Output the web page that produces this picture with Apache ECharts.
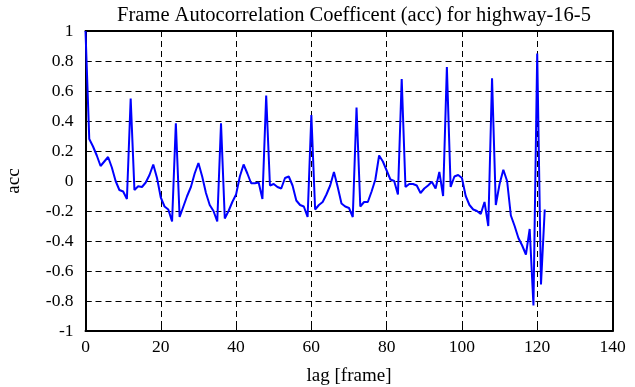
<!DOCTYPE html>
<html>
<head>
<meta charset="utf-8">
<script src="https://cdn.jsdelivr.net/npm/echarts@6/dist/echarts.min.js"></script>
<style>
html,body{margin:0;padding:0;background:#fff;}
#chart{width:635px;height:387px;}
</style>
</head>
<body>
<div id="chart"></div>
<script>
var titleText = 'Frame Autocorrelation Coefficent (acc) for highway-16-5';
var xName = 'lag [frame]';
var yName = 'acc';
var xTicks = [0, 20, 40, 60, 80, 100, 120, 140];
var yTicks = [-1, -0.8, -0.6, -0.4, -0.2, 0, 0.2, 0.4, 0.6, 0.8, 1];
var lags = [];
for (var k = 0; k <= 122; k++) lags.push(k);
var acc = [
  1.0, 0.28, 0.23, 0.17, 0.10, 0.13, 0.16, 0.09, 0.0, -0.06,
  -0.07, -0.12, 0.55, -0.06, -0.035, -0.04, -0.01, 0.04, 0.11, 0.02,
  -0.11, -0.17, -0.19, -0.27, 0.385, -0.24, -0.17, -0.10, -0.04, 0.05,
  0.12, 0.03, -0.08, -0.16, -0.20, -0.27, 0.385, -0.25, -0.20, -0.14,
  -0.09, 0.03, 0.11, 0.05, -0.015, -0.015, -0.01, -0.12, 0.57, -0.03,
  -0.02, -0.04, -0.05, 0.02, 0.03, -0.03, -0.13, -0.16, -0.17, -0.24,
  0.44, -0.19, -0.16, -0.14, -0.09, -0.03, 0.06, -0.04, -0.15, -0.17,
  -0.18, -0.24, 0.49, -0.17, -0.14, -0.14, -0.07, 0.01, 0.17, 0.13,
  0.07, 0.01, 0.0, -0.09, 0.68, -0.04, -0.02, -0.02, -0.03, -0.08,
  -0.05, -0.03, -0.005, -0.05, 0.06, -0.10, 0.76, -0.04, 0.03, 0.04,
  0.02, -0.10, -0.16, -0.19, -0.20, -0.22, -0.14, -0.30, 0.685, -0.16,
  -0.02, 0.075, 0.0, -0.23, -0.30, -0.38, -0.43, -0.49, -0.32, -0.83,
  0.85, -0.69, -0.19
];

var FONT = '"Liberation Serif", "DejaVu Serif", serif';
var chart = echarts.init(document.getElementById('chart'), null, {renderer: 'canvas'});
var seriesData = lags.map(function (l, i) { return [l, acc[i]]; });
var frameLine = {show: true, onZero: false, lineStyle: {color: '#000', width: 2}};
var tickIn = {show: true, inside: true, length: 6, lineStyle: {color: '#000', width: 1}};
var dashed = {show: true, lineStyle: {color: '#000', width: 1, type: [6, 4]}};
function fmtY(v) {
  var r = Math.round(v * 10) / 10;
  return String(r);
}
chart.setOption({
  animation: false,
  backgroundColor: '#fff',
  title: {
    text: titleText,
    left: 349, top: 0, textAlign: 'center',
    textStyle: {fontFamily: FONT, fontSize: 20.5, fontWeight: 'normal', color: '#000'}
  },
  grid: {left: 85.5, right: 22.5, top: 31, bottom: 56, containLabel: false, outerBoundsMode: 'none'},
  xAxis: [{
    type: 'value', position: 'bottom',
    min: xTicks[0], max: xTicks[xTicks.length - 1], interval: 20,
    name: xName, nameLocation: 'middle', nameGap: 36,
    nameTextStyle: {fontFamily: FONT, fontSize: 19, color: '#000'},
    axisLine: frameLine, axisTick: tickIn,
    axisLabel: {fontFamily: FONT, fontSize: 17.5, color: '#000', margin: 7},
    splitLine: dashed
  }, {
    type: 'value', position: 'top',
    min: xTicks[0], max: xTicks[xTicks.length - 1], interval: 20,
    axisLine: frameLine, axisTick: tickIn,
    axisLabel: {show: false}, splitLine: {show: false}
  }],
  yAxis: [{
    type: 'value', position: 'left',
    min: yTicks[0], max: yTicks[yTicks.length - 1], interval: 0.2,
    name: yName, nameLocation: 'middle', nameGap: 62, nameRotate: 90,
    nameTextStyle: {fontFamily: FONT, fontSize: 19, color: '#000'},
    axisLine: frameLine, axisTick: tickIn,
    axisLabel: {fontFamily: FONT, fontSize: 17.5, color: '#000', margin: 12, formatter: fmtY},
    splitLine: dashed
  }, {
    type: 'value', position: 'right',
    min: yTicks[0], max: yTicks[yTicks.length - 1], interval: 0.2,
    axisLine: frameLine, axisTick: tickIn,
    axisLabel: {show: false}, splitLine: {show: false}
  }],
  series: [{
    type: 'line', data: seriesData, xAxisIndex: 0, yAxisIndex: 0,
    symbol: 'none', smooth: false,
    lineStyle: {color: '#0000ff', width: 2}
  }]
});
</script>
</body>
</html>
